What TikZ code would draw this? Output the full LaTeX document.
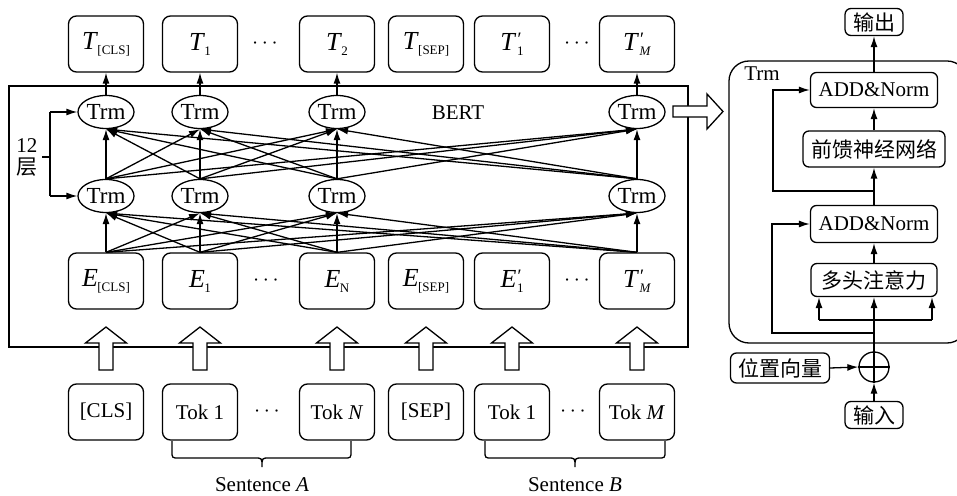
\documentclass[tikz,border=0pt]{standalone}
\usepackage{fontspec}
\setmainfont{Liberation Serif}
\newfontfamily\cjk{Noto Sans CJK SC}
\usetikzlibrary{arrows.meta,shapes.geometric}
\newcommand\sy[2]{{\fontsize{13}{13}\selectfont\textit{#1}}\kern-0.3pt\raisebox{-2.5pt}{\fontsize{6.5}{6.5}\selectfont #2}}
\newcommand\syp[2]{{\fontsize{13}{13}\selectfont\textit{#1}}\rlap{\raisebox{2.5pt}{\fontsize{9.5}{9.5}\selectfont\textit{′}}}\kern0.3pt\raisebox{-2.5pt}{\fontsize{6.5}{6.5}\selectfont #2}}
\tikzset{
  box/.style={draw, rounded corners=4pt, minimum width=37.5pt, minimum height=28pt, inner sep=0pt},
  trm/.style={draw, ellipse, minimum width=28pt, minimum height=16.5pt, inner sep=0pt, font=\fontsize{11.5}{12}\selectfont},
  pbox/.style={draw, rounded corners=3pt, inner sep=0pt},
  arr/.style={-{Latex[length=5.5pt,width=3.5pt]}},
  blk/.style={draw, fill=white, line join=miter},
}
\begin{document}
\begin{tikzpicture}[x=0.5pt, y=-0.5pt, line width=0.65pt, font=\fontsize{10.5}{12}\selectfont]
\useasboundingbox (0,0) rectangle (957,496);

% BERT frame
\draw (9,86) rectangle (688,347);
\node (bertl) at (458,113) {BERT};

% top outputs
\node[box] (tc) at (106,44) {\sy{T}{[CLS]}};
\node[box] (t1) at (200,44) {\sy{T}{1}};
\node (td1) at (265,44) {$\cdots$};
\node[box] (tn) at (337,44) {\sy{T}{2}};
\node[box] (tsep) at (426,44) {\sy{T}{[SEP]}};
\node[box] (t1p) at (512,44) {\syp{T}{1}};
\node (td2) at (577,44) {$\cdots$};
\node[box] (tm) at (637,44) {\syp{T}{\textit{M}}};

% Trm rows
\node[trm] (ac) at (106,112) {Trm};
\node[trm] (a1) at (200,112) {Trm};
\node[trm] (an) at (337,112) {Trm};
\node[trm] (am) at (637,112) {Trm};
\node[trm] (bc) at (106,196) {Trm};
\node[trm] (b1) at (200,196) {Trm};
\node[trm] (bn) at (337,196) {Trm};
\node[trm] (bm) at (637,196) {Trm};

% embeddings
\node[box] (ec) at (106,281) {\sy{E}{[CLS]}};
\node[box] (e1) at (200,281) {\sy{E}{1}};
\node (ed1) at (266,281) {$\cdots$};
\node[box] (en) at (337,281) {\sy{E}{N}};
\node[box] (esep) at (426,281) {\sy{E}{[SEP]}};
\node[box] (e1p) at (512,281) {\syp{E}{1}};
\node (ed2) at (577,281) {$\cdots$};
\node[box] (em) at (637,281) {\syp{T}{\textit{M}}};

% tokens
\node[box] (kc) at (106,412) {[CLS]};
\node[box] (k1) at (200,412) {Tok 1};
\node (kd1) at (267,412) {$\cdots$};
\node[box] (kn) at (337,412) {Tok \textit{N}};
\node[box] (ksep) at (426,412) {[SEP]};
\node[box] (k1p) at (512,412) {Tok 1};
\node (kd2) at (573,412) {$\cdots$};
\node[box] (km) at (637,412) {Tok \textit{M}};

% connections
\foreach \s in {c,1,n,m}{
  \foreach \t in {c,1,n,m}{
    \draw[arr] (e\s.north) -- (b\t.south);
    \draw[arr] (b\s.north) -- (a\t.south);
  }
}
\draw[arr] (ac.north) -- (tc.south);
\draw[arr] (a1.north) -- (t1.south);
\draw[arr] (an.north) -- (tn.south);
\draw[arr] (am.north) -- (tm.south);

% 12 layers
\coordinate (l1) at (50,112);
\coordinate (l2) at (50,196);
\coordinate (l0) at (42,157);
\draw (l1) -- (l2);
\draw (l0) -- (l0 -| l1);
\draw[arr] (l1) -- (ac.west);
\draw[arr] (l2) -- (bc.west);
\node[align=center, inner sep=0pt] (lay) at (27,157) {12\\[-1pt]{\cjk 层}};

% block arrows up
\foreach \x in {106,200,337,426,512,637}{
  \draw[blk] (\x-7,370) -- (\x-7,343) -- (\x-20.5,343) -- (\x,327) -- (\x+20.5,343) -- (\x+7,343) -- (\x+7,370) -- cycle;
}
% block arrow right
\draw[blk] (673,106) -- (707,106) -- (707,94) -- (723,111.5) -- (707,129) -- (707,117) -- (673,117) -- cycle;

% braces
\draw (172,441) -- (172,451) .. controls (172,458) .. (179,458) -- (255,458) .. controls (262,458) .. (262,467) .. controls (262,458) .. (269,458) -- (344,458) .. controls (351,458) .. (351,451) -- (351,441);
\draw (485,441) -- (485,451) .. controls (485,458) .. (492,458) -- (568,458) .. controls (575,458) .. (575,467) .. controls (575,458) .. (582,458) -- (658,458) .. controls (665,458) .. (665,451) -- (665,441);
\node (sa) at (262,485) {Sentence \textit{A}};
\node (sb) at (575,485) {Sentence \textit{B}};

% right panel
\draw[rounded corners=10pt] (729,61) rectangle (967,343);
\node (trml) at (762,74) {Trm};
\node[pbox, minimum width=29pt, minimum height=13.5pt] (out) at (874,22) {\cjk 输出};
\node[pbox, minimum width=63.5pt, minimum height=17.5pt] (add2) at (874,90) {ADD\&Norm};
\node[pbox, minimum width=71pt, minimum height=18pt] (ffn) at (874,149) {\cjk 前馈神经网络};
\node[pbox, minimum width=63.5pt, minimum height=18.5pt] (add1) at (874,224) {ADD\&Norm};
\node[pbox, minimum width=63pt, minimum height=16.5pt] (mha) at (874,280) {\cjk 多头注意力};
\node[draw, circle, minimum size=15pt, inner sep=0pt] (plus) at (874,367) {};
\draw (plus.north) -- (plus.south) (plus.west) -- (plus.east);
\node[pbox, minimum width=49.5pt, minimum height=15pt] (pos) at (780,368) {\cjk 位置向量};
\node[pbox, minimum width=29pt, minimum height=13.5pt] (inp) at (874,415) {\cjk 输入};

\draw[arr] (add2.north) -- (out.south);
\draw[arr] (ffn.north) -- (add2.south);
\draw[arr] (add1.north) -- (ffn.south);
\draw[arr] (mha.north) -- (add1.south);
\draw[arr] (plus.north) -- (mha.south);
\draw[arr] (pos.east) -- (plus.west);
\draw[arr] (inp.north) -- (plus.south);

\coordinate (r1) at (874,191);
\coordinate (r1b) at (773,191);
\draw[arr] (r1) -- (r1b) |- (add2.west);
\coordinate (r2) at (874,333);
\coordinate (r2b) at (772,333);
\draw[arr] (r2) -- (r2b) |- (add1.west);
\coordinate (ql) at (819,320);
\coordinate (qr) at (932,320);
\draw (ql) -- (qr);
\draw[arr] (ql) -- (ql |- mha.south);
\draw[arr] (qr) -- (qr |- mha.south);
\end{tikzpicture}
\end{document}
